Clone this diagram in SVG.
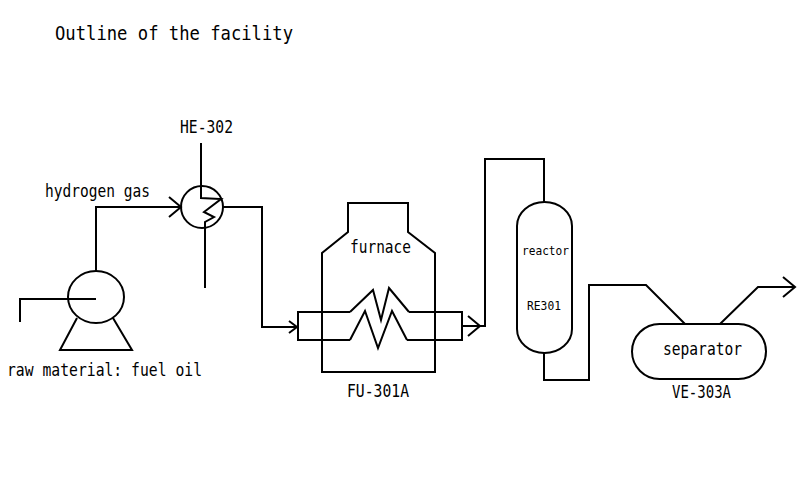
<svg xmlns="http://www.w3.org/2000/svg" width="812" height="482" viewBox="0 0 812 482">
<style>
.ln{fill:none;stroke:#000;stroke-width:2;stroke-linejoin:miter}
.eq{fill:#fff;stroke:#000;stroke-width:2}
text{font-family:"DejaVu Sans Mono","Liberation Mono",monospace;fill:#000}
</style>
<defs>
<marker id="arr" markerUnits="userSpaceOnUse" markerWidth="30" markerHeight="30" viewBox="-15 -15 30 30" refX="0" refY="0" orient="auto" overflow="visible">
<path d="M-12,-10 L0,0 L-12,10" fill="none" stroke="#000" stroke-width="2"/>
</marker>
<marker id="arrS" markerUnits="userSpaceOnUse" markerWidth="30" markerHeight="30" viewBox="-15 -15 30 30" refX="0" refY="0" orient="auto" overflow="visible">
<path d="M-8,-6 L0,0 L-8,6" fill="none" stroke="#000" stroke-width="2"/>
</marker>
</defs>
<rect width="812" height="482" fill="#fff"/>
<text id="title" x="55" y="40" font-size="20" textLength="238" lengthAdjust="spacingAndGlyphs">Outline of the facility</text>

<g id="connectors" class="ln">
<path d="M96,272 V207 H181" marker-end="url(#arr)"/>
<path d="M20,322 V299 H96"/>
<path d="M223,207 H262 V327 H297" marker-end="url(#arrS)"/>
<path d="M462,326 H480" marker-end="url(#arr)"/>
<path d="M480,326 H485 V159 H544 V202"/>
<path d="M544,353 V380 H589 V285 H646 L685,324"/>
<path d="M720,324 L758,287 H795" marker-end="url(#arr)"/>
</g>

<g id="pump">
<path class="ln" d="M77,318 L60,350 H132 L113,318"/>
<ellipse cx="96" cy="297" rx="28" ry="26" fill="none" stroke="#000" stroke-width="2"/>
<text x="7" y="376" font-size="17" textLength="195" lengthAdjust="spacingAndGlyphs">raw material: fuel oil</text>
<text x="45" y="197" font-size="17" textLength="105" lengthAdjust="spacingAndGlyphs">hydrogen gas</text>
</g>

<g id="HE-302">
<circle cx="202" cy="207" r="21" fill="none" stroke="#000" stroke-width="2"/>
<path class="ln" d="M201,143 V198 L221,199 L204,212 L214,217 L205,222 V288"/>
<text x="180" y="133" font-size="17" textLength="53" lengthAdjust="spacingAndGlyphs">HE-302</text>
</g>

<g id="FU-301A">
<path class="ln" d="M322,372 V253 L348,232 V203 H408 V232 L435,253 V372 Z"/>
<path class="ln" d="M350,312 H298 V340 H350 M409,312 H462 V340 H407"/>
<path class="ln" d="M350,312 L373,290 L381,320 L389,288 L409,312"/>
<path class="ln" d="M350,340 L365,311 L378,348 L392,311 L407,340"/>
<text x="350" y="253" font-size="17" textLength="61" lengthAdjust="spacingAndGlyphs">furnace</text>
<text x="347" y="397" font-size="17" textLength="62" lengthAdjust="spacingAndGlyphs">FU-301A</text>
</g>

<g id="RE301">
<rect x="517" y="202" width="55" height="151" rx="27.5" ry="24" fill="none" stroke="#000" stroke-width="2"/>
<text x="522" y="255" font-size="13" textLength="47" lengthAdjust="spacingAndGlyphs">reactor</text>
<text x="527" y="310" font-size="13" textLength="34" lengthAdjust="spacingAndGlyphs">RE301</text>
</g>

<g id="VE-303A">
<rect x="632" y="324" width="134" height="55" rx="27.5" fill="none" stroke="#000" stroke-width="2"/>
<text x="663" y="355" font-size="17" textLength="79" lengthAdjust="spacingAndGlyphs">separator</text>
<text x="672" y="398" font-size="17" textLength="59" lengthAdjust="spacingAndGlyphs">VE-303A</text>
</g>
</svg>
